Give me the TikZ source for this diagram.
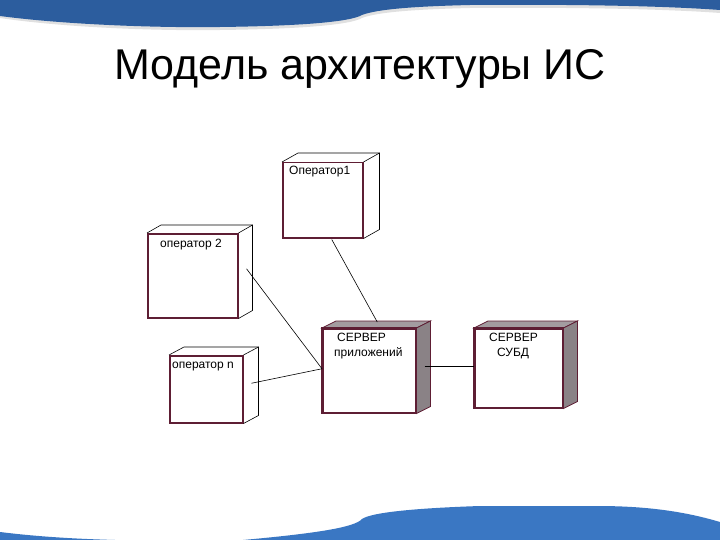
\documentclass[tikz,border=0pt]{standalone}
\usepackage{fontspec}
\setmainfont{Liberation Sans}
\usetikzlibrary{calc}
\definecolor{topblue}{HTML}{2C5D9E}
\definecolor{botblue}{HTML}{3A77C3}
\definecolor{maroon}{HTML}{5E1E34}
\definecolor{sidegray}{HTML}{8A8286}
\definecolor{topgray}{HTML}{A39CA0}
\tikzset{
  front/.style={draw=maroon, line width=1.5pt, fill=white, rectangle, inner sep=0pt, anchor=north west},
  edge3d/.style={draw=black, line width=0.6pt},
  lbl/.style={font=\fontsize{12}{15}\selectfont, inner sep=0pt, anchor=west, align=left},
  conn/.style={draw=black, line width=0.6pt},
}
\newcommand{\plainbox}[7]{% name x y w h dx dy
  \node[front, minimum width=#4pt, minimum height=#5pt] (#1) at (#2,#3) {};
  \draw[edge3d] (#1.north west) -- ++(#6,#7) -- ($(#1.north east)+(#6,#7)$) -- ($(#1.south east)+(#6,#7)$) -- (#1.south east);
  \draw[edge3d] (#1.north east) -- ++(#6,#7);
}
\newcommand{\shadedbox}[7]{% name x y w h dx dy
  \node[front, minimum width=#4pt, minimum height=#5pt] (#1) at (#2,#3) {};
  \fill[topgray, draw=maroon, line width=0.8pt] (#1.north west) -- ++(#6,#7) -- ($(#1.north east)+(#6,#7)$) -- (#1.north east) -- cycle;
  \fill[sidegray, draw=maroon, line width=0.8pt] (#1.north east) -- ++(#6,#7) -- ($(#1.south east)+(#6,#7)$) -- (#1.south east) -- cycle;
  \draw[maroon, line width=1.5pt] (#1.north west) rectangle (#1.south east);
}
\begin{document}
\begin{tikzpicture}[x=1pt,y=-1pt]
\useasboundingbox (0,0) rectangle (720,540);
% top banner
\fill[gray!40, opacity=0.6] (0,0) -- (0,18) .. controls (60,27) and (150,31) .. (220,30) .. controls (300,29) and (350,25) .. (362,18) .. controls (380,11) and (430,9) .. (470,8) .. controls (600,7) and (680,10) .. (720,13) -- (720,0) -- cycle;
\fill[topblue] (0,0) -- (0,16) .. controls (60,24) and (150,28) .. (220,27) .. controls (300,26) and (350,22) .. (362,15) .. controls (380,8) and (430,6) .. (470,5) .. controls (600,4) and (680,7) .. (720,10) -- (720,0) -- cycle;
% bottom banner
\fill[botblue] (720,540) -- (720,522) .. controls (680,510) and (640,506) .. (597,506) -- (480,506) .. controls (420,508) and (372,512) .. (362,519) .. controls (355,527) and (320,533) .. (243,540) -- cycle;
\fill[botblue] (0,532) .. controls (40,537) and (80,539) .. (115,540) -- (0,540) -- cycle;
% title
\node[font=\fontsize{43}{50}\selectfont, anchor=base] (title) at (360,80) {Модель архитектуры ИС};
% boxes
\plainbox{op1}{282}{162}{80}{75}{16}{-9}
\plainbox{op2}{147}{233}{90}{84}{14}{-8}
\plainbox{opn}{169}{355}{73}{67}{15}{-8}
\shadedbox{srv}{322}{328}{93}{84}{14}{-7}
\shadedbox{db}{474}{328}{88}{79}{14}{-7}
% labels
\node[lbl] (t1) at (289,172) {Оператор1};
\node[lbl] (t2) at (160,245) {оператор 2};
\node[lbl] (tn) at (172,367) {оператор n};
\node[lbl, align=left, font=\fontsize{12}{15}\selectfont] (ts) at (334,346) {\hspace*{3pt}СЕРВЕР\\приложений};
\node[lbl, align=left, font=\fontsize{12}{15}\selectfont] (td) at (489,346) {СЕРВЕР\\\hspace*{8pt}СУБД};
% connectors
\draw[conn] ($(op1.south)+(9,1)$) -- ($(srv.north)+(8,-6)$);
\draw[conn] ($(op2.east)+(8,-7)$) -- ($(srv.west)+(0,-2)$);
\draw[conn] ($(opn.east)+(8,-6)$) -- ($(srv.west)+(0,-2)$);
\draw[conn] ($(srv.east)+(8,-4)$) -- ($(db.west)+(0,-1.5)$);
\end{tikzpicture}
\end{document}
